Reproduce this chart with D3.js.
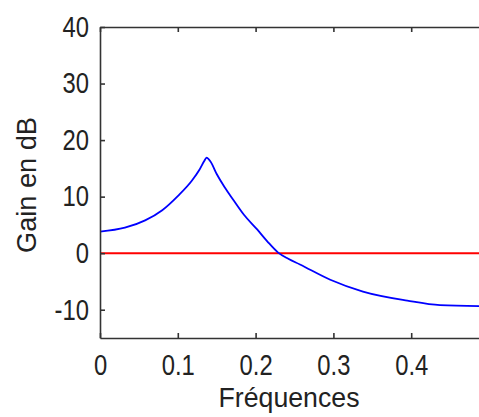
<!DOCTYPE html>
<html>
<head>
<meta charset="utf-8">
<script src="https://cdn.jsdelivr.net/npm/d3@7"></script>
<style>
  html, body { margin: 0; padding: 0; background: #fff; overflow: hidden; }
  svg { display: block; }
  .tick text { font-family: "Liberation Sans", Arial, sans-serif; font-size: 29px; fill: #222; }
  .title { font-family: "Liberation Sans", Arial, sans-serif; font-size: 28px; fill: #222; }
</style>
</head>
<body>
<svg id="chart" width="479" height="417"></svg>
<script>
// Data
const freq = [0, 0.032, 0.058, 0.080, 0.100, 0.118, 0.128, 0.134, 0.137, 0.142, 0.150, 0.160, 0.171, 0.185, 0.202, 0.215, 0.229, 0.242, 0.257, 0.296, 0.338, 0.395, 0.437, 0.5];
const gain = [3.8, 4.5, 5.8, 7.6, 10.1, 12.8, 14.8, 16.3, 16.9, 16.2, 14.0, 11.7, 9.5, 6.8, 4.2, 2.1, 0.1, -1.0, -2.0, -4.7, -6.8, -8.4, -9.2, -9.4];
const refLevel = [0, 0];
const refFreq = [0, 0.5];
const xTicks = [0, 0.1, 0.2, 0.3, 0.4];
const yTicks = [-10, 0, 10, 20, 30, 40];
const xDomain = [0, 0.5];
const yDomain = [-15, 40];
const xLabel = "Fréquences";
const yLabel = "Gain en dB";

const svg = d3.select("#chart");
const mLeft = 100, mRight = 489, mTop = 27, mBottom = 338;

const x = d3.scaleLinear().domain(xDomain).range([mLeft, mRight]);
const y = d3.scaleLinear().domain(yDomain).range([mBottom, mTop]);

// red reference line
svg.append("path")
  .datum(refFreq.map((f, i) => [f, refLevel[i]]))
  .attr("fill", "none").attr("stroke", "#ff0000").attr("stroke-width", 2)
  .attr("d", d3.line().x(d => x(d[0])).y(d => y(d[1])));

// blue gain curve
svg.append("path")
  .datum(freq.map((f, i) => [f, gain[i]]))
  .attr("fill", "none").attr("stroke", "#0000ff").attr("stroke-width", 1.8)
  .attr("d", d3.line().curve(d3.curveMonotoneX).x(d => x(d[0])).y(d => y(d[1])));

function styleAxis(g) {
  g.select(".domain").attr("stroke", "#333").attr("stroke-width", 1.6);
  g.selectAll(".tick line").attr("stroke", "#333").attr("stroke-width", 1.6);
}
function narrow(g) {
  g.selectAll(".tick text").attr("fill", "#222").each(function () {
    const w = this.getComputedTextLength();
    d3.select(this).attr("textLength", w * 0.82).attr("lengthAdjust", "spacingAndGlyphs");
  });
}
const fmt = d => String(d);

svg.append("g").attr("transform", `translate(0,${mBottom})`)
  .call(d3.axisBottom(x).tickValues(xTicks).tickFormat(fmt).tickSizeInner(-5).tickSizeOuter(0).tickPadding(16))
  .call(styleAxis)
  .call(narrow);

svg.append("g").attr("transform", `translate(0,${mTop})`)
  .call(d3.axisTop(x).tickValues(xTicks).tickFormat("").tickSizeInner(-5).tickSizeOuter(0))
  .call(styleAxis);

svg.append("g").attr("transform", `translate(${mLeft},0)`)
  .call(d3.axisLeft(y).tickValues(yTicks).tickFormat(fmt).tickSizeInner(-5).tickSizeOuter(0).tickPadding(11))
  .call(styleAxis)
  .call(narrow);

svg.append("text").attr("class", "title")
  .attr("x", 289).attr("y", 407).attr("text-anchor", "middle")
  .attr("textLength", 141).attr("lengthAdjust", "spacingAndGlyphs")
  .text(xLabel);

svg.append("text").attr("class", "title")
  .attr("transform", "translate(36,185) rotate(-90)")
  .attr("text-anchor", "middle")
  .attr("textLength", 136).attr("lengthAdjust", "spacingAndGlyphs")
  .text(yLabel);
</script>
</body>
</html>
